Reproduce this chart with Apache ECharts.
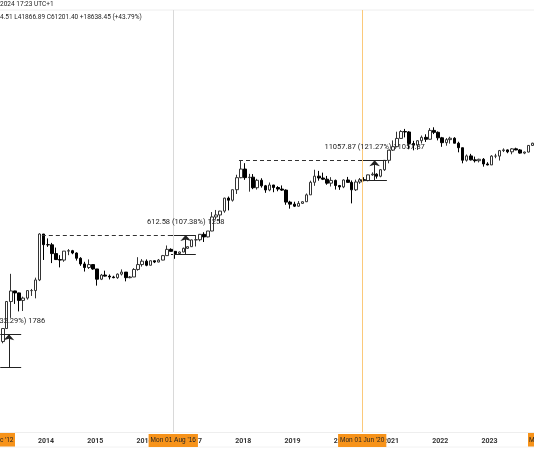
<!DOCTYPE html><html><head><meta charset="utf-8">
<script src="https://cdn.jsdelivr.net/npm/echarts@6/dist/echarts.min.js"></script>
<style>html,body{margin:0;background:#fff}#c{width:534px;height:462px}</style></head><body><div id="c"></div>
<script>
const startMonth = [2012, 12];
// [open, close, low, high] monthly
const ohlc = [
[12.6,13.5,12.3,13.8],
[13.5,20.4,13.1,20.6],[20.4,33.4,19.1,33.5],[33.4,93,33,95],[93,139,50,266],[139,129,85,140],[129,97,64,130],[97,106,65,112],[106,141,100,141],[141,141,115,150],[141,211,105,230],[211,1205,202,1240],[1205,805,450,1163],
[805,800,740,1020],[800,573,400,860],[573,457,450,720],[457,448,340,540],[448,630,420,630],[630,640,540,680],[640,586,560,660],[586,480,440,600],[480,387,360,500],[387,338,290,420],[338,378,320,460],[378,320,310,380],
[320,217,170,320],[217,254,210,265],[254,244,240,300],[244,236,215,260],[236,230,225,247],[230,263,220,270],[263,284,250,315],[284,230,200,285],[230,236,225,245],[236,314,236,330],[314,378,300,500],[378,430,350,465],
[430,368,355,460],[368,437,365,440],[437,416,400,440],[416,448,412,467],[448,531,445,545],[531,673,530,780],[673,624,620,700],[624,575,470,630],[575,609,570,620],[609,700,604,720],[700,745,690,750],[745,964,740,975],
[964,970,750,1150],[970,1190,915,1200],[1190,1080,890,1290],[1080,1350,1060,1350],[1350,2300,1340,2770],[2300,2480,2080,3000],[2480,2875,1830,2900],[2875,4700,2700,4770],[4700,4340,2950,4990],[4340,6470,4120,6470],[6470,10200,5500,11400],[10200,14150,10000,19800],
[14150,10220,9400,17700],[10220,10400,6000,11800],[10400,6970,6600,11700],[6970,9240,6500,9760],[9240,7500,7000,9990],[7500,6400,5750,7750],[6400,7730,6100,8500],[7730,7030,5880,7760],[7030,6630,6100,7400],[6630,6370,6200,7600],[6370,4040,3650,6550],[4040,3740,3150,4250],
[3740,3460,3350,4100],[3460,3850,3400,4200],[3850,4100,3780,4150],[4100,5320,4050,5600],[5320,8570,5320,9100],[8570,10800,7500,13800],[10800,10080,9100,13200],[10080,9630,9320,12350],[9630,8290,7800,10900],[8290,9200,7300,10400],[9200,7570,6500,9500],[7570,7190,6430,7750],
[7190,9350,6860,9580],[9350,8540,8450,10500],[8540,6440,3850,9190],[6440,8660,6150,9470],[8660,9460,8100,10070],[9460,9140,8900,10400],[9140,11350,8900,11450],[11350,11650,10980,12480],[11650,10780,9850,12070],[10780,13800,10370,14100],[13800,19700,13200,19900],[19700,28990,17600,29300],
[28990,33100,28100,41950],[33100,45240,32300,58350],[45240,58800,45000,61800],[58800,57750,47000,64850],[57750,37300,30000,59600],[37300,35040,28800,41300],[35040,41460,29300,42400],[41460,47100,37300,50500],[47100,43790,39600,52900],[43790,61300,43300,67000],[61300,57000,53300,69000],[57000,46300,42000,59050],
[46300,38480,32900,47900],[38480,43190,34300,45800],[43190,45540,37200,48200],[45540,37710,37600,47400],[37710,31790,26700,39900],[31790,19780,17600,31900],[19780,23300,18800,24600],[23300,20050,19600,25200],[20050,19430,18150,22700],[19430,20500,18200,20950],[20500,17170,15500,21450],[17170,16550,16300,18350],
[16550,23140,16500,23950],[23140,23150,21350,25250],[23150,28480,19550,29200],[28480,29250,26950,31000],[29250,27220,25800,29800],[27220,30470,24800,31400],[30470,29230,28900,31800],[29230,25940,25300,30200],[25940,26970,24900,27480],[26970,34670,26550,35200],[34670,37720,34100,38400]
];
const header1 = '2024 17:23 UTC+1';
const header2 = '4.51 L41866.89 C61201.40 +18638.45 (+43.79%)';
const peaks = [['2013-12-01',1163,'2017-01-15'],['2017-12-01',19800,'2020-08-01'],['2021-11-01',69000,'2023-12-31']];
const measures = [
  {from:'2013-01-27',to:'2013-07-01',mid:'2013-04-01',lo:7.7,hi:27,text:'(132.29%) 1786',dx:10},
  {from:'2016-07-15',to:'2017-01-15',mid:'2016-11-01',lo:560,hi:1160,text:'612.58 (107.38%) 1258',dx:0},
  {from:'2020-05-15',to:'2020-12-01',mid:'2020-09-01',lo:9270,hi:19800,text:'11057.87 (121.27%) 11057.87',dx:0}
];
const vlines = [['2016-08-01','Mon 01 Aug \'16','#d9d9d9'],['2020-06-01','Mon 01 Jun \'20','#fbc97a']];

const data = ohlc.map((r,i)=>{const m=startMonth[1]-1+i;const y=startMonth[0]+Math.floor(m/12);const mo=m%12+1;
  return [y+'-'+String(mo).padStart(2,'0')+'-15',r[0],r[1],r[2],r[3]];});

const ml = [];
peaks.forEach(p=>ml.push([{coord:[p[0],p[1]],lineStyle:{type:[4,3],color:'#333',width:1}},{coord:[p[2],p[1]]}]));
measures.forEach(m=>{
  ml.push([{coord:[m.from,m.lo],lineStyle:{type:'solid',color:'#222',width:1}},{coord:[m.to,m.lo]}]);
  ml.push([{coord:[m.from,m.hi],lineStyle:{type:'solid',color:'#222',width:1}},{coord:[m.to,m.hi]}]);
  ml.push([{coord:[m.mid,m.lo],lineStyle:{type:'solid',color:'#222',width:1},symbol:'none'},{coord:[m.mid,m.hi],symbol:'arrow',symbolSize:[8,6]}]);
});
vlines.forEach(v=>ml.push({xAxis:v[0],lineStyle:{type:'solid',color:v[2],width:1},
  label:{show:true,position:'start',formatter:v[1],backgroundColor:'#f7931a',color:'#222',fontSize:6.5,padding:[3,2],distance:2}}));

const chart = echarts.init(document.getElementById('c'));
chart.setOption({
  animation:false,
  grid:{left:0,right:0,top:10,bottom:30},
  xAxis:{type:'time',min:'2013-01-25',max:'2023-11-26',minInterval:365*86400000,maxInterval:366*86400000,
    axisLine:{lineStyle:{color:'#eee'}},axisTick:{show:false},splitLine:{show:false},
    axisLabel:{formatter:'{yyyy}',showMinLabel:false,showMaxLabel:false,hideOverlap:false,
      color:'#333',fontSize:7,fontWeight:'bold',margin:6,fontFamily:'Roboto'}},
  yAxis:{type:'log',logBase:10,min:0.66,max:5.9e6,show:false,splitLine:{show:false}},
  series:[{type:'candlestick',data:data,encode:{x:0,y:[1,2,3,4]},barWidth:3,
    itemStyle:{color:'#fff',color0:'#000',borderColor:'#333',borderColor0:'#000',borderWidth:1},
    markLine:{silent:true,symbol:'none',label:{show:false},data:ml,animation:false},
    markPoint:{symbol:'circle',symbolSize:0,data:measures.map(m=>({coord:[m.mid,m.hi],
      label:{show:true,formatter:m.text,position:'top',distance:9,offset:[m.dx,0],color:'#222',fontSize:7.5,fontFamily:'Roboto'}}))}
  }],
  graphic:[
    {type:'text',left:0,top:1,style:{text:header1,fontSize:6.5,fill:'#222',fontFamily:'Roboto'}},
    {type:'line',shape:{x1:0,y1:10,x2:534,y2:10},style:{stroke:'#eee'}},
    {type:'text',left:0,top:14,style:{text:header2,fontSize:6.5,fill:'#222',fontFamily:'Roboto'}},
    {type:'rect',shape:{x:0,y:433,width:15,height:14},style:{fill:'#f7931a'}},
    {type:'text',left:0,top:437,style:{text:"c '12",fontSize:6.5,fill:'#222',fontFamily:'Roboto'}},
    {type:'rect',shape:{x:528,y:433,width:6,height:14},style:{fill:'#f7931a'}},
    {type:'text',left:529,top:437,style:{text:'M',fontSize:6.5,fill:'#222',fontFamily:'Roboto'}},
    {type:'line',shape:{x1:0,y1:447,x2:534,y2:447},style:{stroke:'#f2f2f2'}}
  ]
});
</script></body></html>
